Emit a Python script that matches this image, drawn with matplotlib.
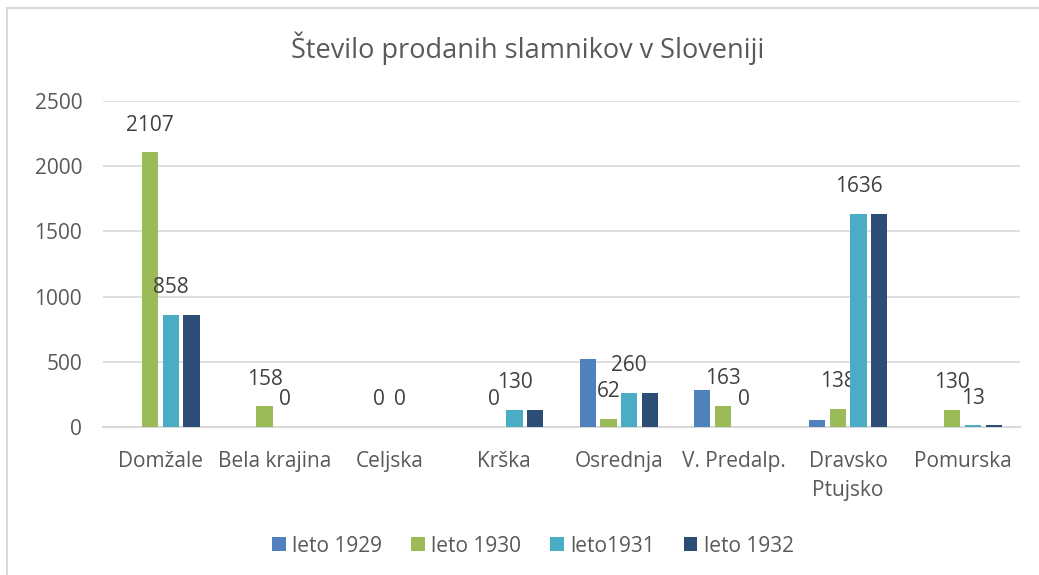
import numpy as np
import matplotlib
matplotlib.use('Agg')
import matplotlib.pyplot as plt
from matplotlib.patches import Rectangle

plt.rcParams['font.family'] = ['Open Sans', 'DejaVu Sans']

# ── data ───────────────────────────────────────────────────────────────────────
regions = ['Domžale', 'Bela krajina', 'Celjska', 'Krška', 'Osrednja',
           'V. Predalp.', 'Dravsko\nPtujsko', 'Pomurska']
series_names = ['leto 1929', 'leto 1930', 'leto1931', 'leto 1932']
leto_1929 = [0, 0, 0, 0, 525, 283, 57, 0]
leto_1930 = [2107, 158, 0, 0, 62, 163, 138, 130]
leto_1931 = [858, 0, 0, 130, 260, 0, 1636, 13]
leto_1932 = [858, 0, 0, 130, 260, 0, 1636, 13]
labelled = [False, True, True, False]   # only 1930 and 1931 carry data labels

colors = ['#4F81BD', '#9BBB59', '#4BACC6', '#2C4D75']
TXT = '#595959'
GRID = '#D9D9D9'

fig = plt.figure(figsize=(10.39, 5.75), dpi=100)
ax = fig.add_axes([103 / 1039, 1 - 427 / 575, 917 / 1039, 326 / 575])

x = np.arange(len(regions))
step = 0.181
width = 0.142
for i, (vals, name, col) in enumerate(zip([leto_1929, leto_1930, leto_1931, leto_1932],
                                          series_names, colors)):
    pos = x + (i - 1.5) * step
    ax.bar(pos, vals, width=width, color=col, label=name, zorder=3)
    if labelled[i]:
        for p, v in zip(pos, vals):
            ax.annotate(f'{v}', (p, v), xytext=(0, 12), textcoords='offset points',
                        ha='center', va='bottom', fontsize=15, color='#404040')

ax.set_xlim(-0.5, len(regions) - 0.5)
ax.set_ylim(0, 2500)
ax.set_yticks(np.arange(0, 2501, 500))
ax.grid(axis='y', color=GRID, lw=1.2, zorder=0)
ax.set_xticks(x)
ax.set_xticklabels(regions, linespacing=1.5)
ax.tick_params(axis='both', length=0, labelsize=15, colors=TXT)
ax.tick_params(axis='x', pad=17)
ax.tick_params(axis='y', pad=15)
for s in ['top', 'right', 'left']:
    ax.spines[s].set_visible(False)
ax.spines['bottom'].set_color(GRID)
ax.spines['bottom'].set_linewidth(1.5)

fig.text(528 / 1039, 1 - 48 / 575, 'Število prodanih slamnikov v Sloveniji',
         ha='center', va='center', fontsize=19.5, color=TXT)

leg = fig.legend(loc='center', bbox_to_anchor=(533 / 1039, 1 - 546 / 575), ncol=4,
                 frameon=False, fontsize=15, handlelength=0.65, handleheight=0.65,
                 handletextpad=0.3, columnspacing=1.4)
for t in leg.get_texts():
    t.set_color(TXT)

fig.patches.append(Rectangle((7 / 1039, -0.1), 1.2, 1 - 8 / 575 + 0.1,
                             transform=fig.transFigure, fill=False,
                             edgecolor=GRID, lw=1.5))

fig.savefig('out.png', dpi=100)
